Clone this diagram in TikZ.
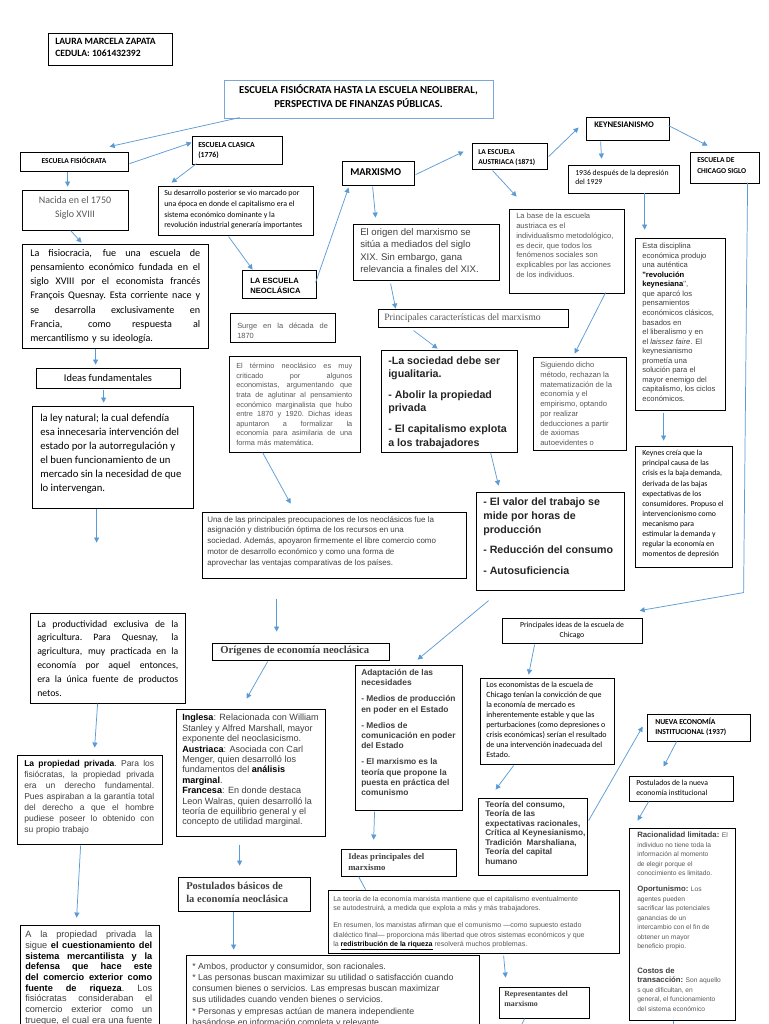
\documentclass[tikz,border=0pt]{standalone}
\usepackage{fontspec}
\setmainfont{Carlito}
\newfontfamily\ar{Liberation Sans}
\newfontfamily\tm{Liberation Serif}
\usetikzlibrary{arrows.meta,fit,calc}
\definecolor{arrc}{HTML}{5B9BD5}
\definecolor{titc}{HTML}{7BA7D7}
\definecolor{tg}{HTML}{404040}
\definecolor{tl}{HTML}{595959}
\newcommand{\fz}[2]{\fontsize{#1pt}{#2pt}\selectfont}
\newlength{\jw}
\newcommand{\J}[1]{\leavevmode\hbox to \jw{\spaceskip=\fontdimen2\font plus 1fil\relax\xspaceskip=\spaceskip #1}}
\begin{document}
\begin{tikzpicture}[x=0.75pt,y=-0.75pt,
 bx/.style={draw=black,line width=0.6pt,inner sep=0pt},
 tx/.style={anchor=north west,inner sep=0pt,align=left},
 arr/.style={draw=arrc,line width=0.55pt,-{Triangle[length=3.8pt,width=3.8pt]}},
 ln/.style={draw=arrc,line width=0.55pt}]
\useasboundingbox (0,0) rectangle (768,1024);
\fill[white] (0,0) rectangle (768,1024);
\clip (0,0) rectangle (768,1024);

% ---------- boxes ----------
\node[bx,fit={(48,33) (172,65)}] (name) {};
\node[bx,draw=titc,fit={(224,80) (493,118)}] (title) {};
\node[bx,fit={(20,152) (128,171)}] (fis) {};
\node[bx,fit={(192,136) (282,164)}] (clas) {};
\node[bx,fit={(22,190) (128,230)}] (nac) {};
\node[bx,fit={(22,244) (208,348)}] (fisio) {};
\node[bx,fit={(36,368) (180,388)}] (ideas) {};
\node[bx,fit={(32,406) (193,508)}] (ley) {};
\node[bx,fit={(30,613) (185,703)}] (prod) {};
\node[bx,fit={(17,755) (162,844)}] (prop) {};
\node[bx,fit={(20,925) (159,1034)}] (ala) {};
\node[bx,fit={(158,186) (313,235)}] (desa) {};
\node[bx,fit={(242,270) (316,298)}] (neo) {};
\node[bx,fit={(230,313) (335,342)}] (surge) {};
\node[bx,fit={(229,356) (360,452)}] (term) {};
\node[bx,fit={(202,512) (466,578)}] (una) {};
\node[bx,fit={(212,643) (389,660)}] (orig) {};
\node[bx,fit={(176,709) (325,836)}] (ingl) {};
\node[bx,fit={(178,877) (310,911)}] (post) {};
\node[bx,fit={(186,955) (479,1034)}] (amb) {};
\node[bx,fit={(342,161) (414,185)}] (marx) {};
\node[bx,fit={(353,224) (499,280)}] (origen) {};
\node[bx,fit={(378,309) (568,327)}] (carac) {};
\node[bx,fit={(381,350) (517,452)}] (soc) {};
\node[bx,fit={(476,492) (624,590)}] (valor) {};
\node[bx,fit={(472,143) (547,169)}] (aus) {};
\node[bx,fit={(509,209) (624,293)}] (base) {};
\node[bx,fit={(533,357) (626,450)}] (sig) {};
\node[bx,fit={(586,117) (669,140)}] (key) {};
\node[bx,fit={(568,165) (679,193)}] (anio) {};
\node[bx,fit={(690,152) (759,183)}] (chi) {};
\node[bx,fit={(635,238) (725,410)}] (esta) {};
\node[bx,fit={(635,446) (732,567)}] (keyc) {};
\node[bx,fit={(502,618) (642,643)}] (pich) {};
\node[bx,fit={(480,678) (614,764)}] (leco) {};
\node[bx,fit={(355,665) (462,810)}] (adap) {};
\node[bx,fit={(341,849) (456,876)}] (ideasm) {};
\node[bx,fit={(328,890) (619,953)}] (teo) {};
\node[bx,fit={(499,987) (589,1018)}] (rep) {};
\node[bx,fit={(478,798) (587,875)}] (tcon) {};
\node[bx,fit={(647,714) (750,741)}] (nue) {};
\node[bx,fit={(629,776) (733,801)}] (pnue) {};
\node[bx,fit={(629,828) (735,1020)}] (rac) {};

% ---------- texts ----------
\node[tx,font=\bfseries\fz{7.2}{9}] (namet) at (55,38) {LAURA MARCELA ZAPATA\\CEDULA: 1061432392};
\node[inner sep=0pt,align=center,font=\bfseries\fz{8}{10.5}] (titlet) at (358.5,96) {ESCUELA FISIÓCRATA HASTA LA ESCUELA NEOLIBERAL,\\PERSPECTIVA DE FINANZAS PÚBLICAS.};
\node[inner sep=0pt,font=\bfseries\fz{5.6}{7}] (fist) at (74,160) {ESCUELA FISIÓCRATA};
\node[tx,font=\bfseries\fz{5.8}{7.5}] (clast) at (198,142) {ESCUELA CLASICA\\(1776)};
\node[inner sep=0pt,align=center,text=tl,font=\fz{7.5}{10.5}] (nact) at (75,208) {Nacida en el 1750\\Siglo XVIII};
\node[tx,text width=127.5pt,font=\fz{7.6}{10.65}] (fisiot) at (30,249) {\setlength{\jw}{127.5pt}\J{La fisiocracia, fue una escuela de}\\\J{pensamiento económico fundada en el}\\\J{siglo XVIII por el economista francés}\\\J{François Quesnay. Esta corriente nace y}\\\J{se desarrolla exclusivamente en}\\\J{Francia, como respuesta al}\\mercantilismo y su ideología.};
\node[inner sep=0pt,font=\fz{7.8}{9}] (ideast) at (108,378) {Ideas fundamentales};
\node[tx,font=\fz{8}{10.4}] (leyt) at (40,414) {la ley natural; la cual defendía\\esa innecesaria intervención del\\estado por la autorregulación y\\el buen funcionamiento de un\\mercado sin la necesidad de que\\lo intervengan.};
\node[tx,text width=105.75pt,font=\fz{7.3}{10.35}] (prodt) at (37,620) {\setlength{\jw}{105.75pt}\J{La productividad exclusiva de la}\\\J{agricultura. Para Quesnay, la}\\\J{agricultura, muy practicada en la}\\\J{economía por aquel entonces,}\\\J{era la única fuente de productos}\\netos.};
\node[tx,text width=97.5pt,text=tg,font=\ar\fz{6.4}{8.25}] (propt) at (24,760) {\setlength{\jw}{97.5pt}\J{\textcolor{black}{\textbf{La propiedad privada}}. Para los}\\\J{fisiócratas, la propiedad privada}\\\J{era un derecho fundamental.}\\\J{Pues aspiraban a la garantía total}\\\J{del derecho a que el hombre}\\\J{pudiese poseer lo obtenido con}\\su propio trabajo};
\node[tx,text width=95.25pt,text=tg,font=\ar\fz{6.9}{8}] (alat) at (25,931) {\setlength{\jw}{95.25pt}\J{A la propiedad privada la}\\\J{sigue \textcolor{black}{\textbf{el cuestionamiento del}}}\\\J{\textcolor{black}{\textbf{sistema mercantilista y la}}}\\\J{\textcolor{black}{\textbf{defensa que hace este}}}\\\J{\textcolor{black}{\textbf{del comercio exterior como}}}\\\J{\textcolor{black}{\textbf{fuente de riqueza}}. Los}\\\J{fisiócratas consideraban el}\\\J{comercio exterior como un}\\\J{trueque, el cual era una fuente}};
\node[tx,font=\fz{5.9}{8}] (desat) at (164,190) {Su desarrollo posterior se vio marcado por\\una época en donde el capitalismo era el\\sistema económico dominante y la\\revolución industrial generaría importantes};
\node[tx,font=\ar\bfseries\fz{5.7}{7.5}] (neot) at (250,278) {LA ESCUELA\\NEOCLÁSICA};
\node[tx,text width=68pt,text=tl,font=\ar\fz{5.6}{7.5}] (surget) at (237,323) {\setlength{\jw}{68pt}\J{Surge en la década de}\\1870};
\node[tx,text width=87pt,text=tl,font=\ar\fz{5.5}{7.2}] (termt) at (236,363) {\setlength{\jw}{87pt}\J{El término neoclásico es muy}\\\J{criticado por algunos}\\\J{economistas, argumentando que}\\\J{trata de aglutinar al pensamiento}\\\J{económico marginalista que hubo}\\\J{entre 1870 y 1920. Dichas ideas}\\\J{apuntaron a formalizar la}\\\J{economía para asimilaria de una}\\forma más matemática.};
\node[tx,text=tg,font=\ar\fz{6}{8.1}] (unat) at (207,516) {Una de las principales preocupaciones de los neoclásicos fue la\\asignación y distribución óptima de los recursos en una\\sociedad. Además, apoyaron firmemente el libre comercio como\\motor de desarrollo económico y como una forma de\\aprovechar las ventajas comparativas de los países.};
\node[anchor=west,inner sep=0pt,text=tg,font=\tm\bfseries\fz{8}{9}] (origt) at (220,651) {Orígenes de economía neoclásica};
\node[tx,text=tg,font=\ar\fz{6.8}{7.8}] (inglt) at (182,714) {\textcolor{black}{\textbf{Inglesa}}: Relacionada con William\\Stanley y Alfred Marshall, mayor\\exponente del neoclasicismo.\\\textcolor{black}{\textbf{Austriaca}}: Asociada con Carl\\Menger, quien desarrolló los\\fundamentos del \textcolor{black}{\textbf{análisis}}\\\textcolor{black}{\textbf{marginal}}.\\\textcolor{black}{\textbf{Francesa}}: En donde destaca\\Leon Walras, quien desarrolló la\\teoría de equilibrio general y el\\concepto de utilidad marginal.};
\node[tx,text=tg,font=\tm\bfseries\fz{7.9}{9.75}] (postt) at (186,882) {Postulados básicos de\\la economía neoclásica};
\node[tx,text=tg,font=\ar\fz{6.6}{8.25}] (ambt) at (192,963) {* Ambos, productor y consumidor, son racionales.\\* Las personas buscan maximizar su utilidad o satisfacción cuando\\consumen bienes o servicios. Las empresas buscan maximizar\\sus utilidades cuando venden bienes o servicios.\\[0.6pt]* Personas y empresas actúan de manera independiente\\basándose en información completa y relevante.};
\node[tx,font=\bfseries\fz{7.8}{9}] (marxt) at (350,168) {MARXISMO};
\node[tx,text=tg,font=\ar\fz{7.2}{9.4}] (origent) at (360,228) {El origen del marxismo se\\sitúa a mediados del siglo\\XIX. Sin embargo, gana\\relevancia a finales del XIX.};
\node[anchor=west,inner sep=0pt,text=tl,font=\tm\fz{7.3}{9}] (caract) at (384,318) {Principales características del marxismo};
\node[tx,text=black!85,font=\ar\bfseries\fz{8}{10.1}] (soct) at (388,356) {-La sociedad debe ser\\igualitaria.\\[5.6pt]- Abolir la propiedad\\privada\\[5.6pt]- El capitalismo explota\\a los trabajadores};
\node[tx,text=black!85,font=\ar\bfseries\fz{8}{10.5}] (valort) at (483,497) {- El valor del trabajo se\\mide por horas de\\producción\\[5.2pt]- Reducción del consumo\\[5.2pt]- Autosuficiencia};
\node[tx,font=\bfseries\fz{5.6}{7.5}] (aust) at (478,149) {LA ESCUELA\\AUSTRIACA (1871)};
\node[tx,text=tl,font=\ar\fz{5.7}{7.35}] (baset) at (516,213) {La base de la escuela\\austriaca es el\\individualismo metodológico,\\es decir, que todos los\\fenómenos sociales son\\explicables por las acciones\\de los individuos.};
\node[tx,text=tl,font=\ar\fz{5.7}{7.3}] (sigt) at (540,362) {Siguiendo dicho\\método, rechazan la\\matematización de la\\economía y el\\empirismo, optando\\por realizar\\deducciones a partir\\de axiomas\\autoevidentes o};
\node[tx,font=\bfseries\fz{6.4}{8}] (keyt) at (594,122) {KEYNESIANISMO};
\node[tx,font=\fz{5.8}{7}] (aniot) at (575,170) {1936 después de la depresión\\del 1929};
\node[tx,font=\bfseries\fz{5.6}{8.25}] (chit) at (697,157) {ESCUELA DE\\CHICAGO SIGLO};
\node[tx,text=tg,font=\ar\fz{5.7}{7.15}] (estat) at (642,243) {Esta disciplina\\económica produjo\\una auténtica\\\textcolor{black}{\textbf{"revolución}}\\\textcolor{black}{\textbf{keynesiana}}",\\que aparcó los\\pensamientos\\económicos clásicos,\\basados en\\el liberalismo y en\\el \textit{laissez faire}. El\\keynesianismo\\prometía una\\solución para el\\mayor enemigo del\\capitalismo, los ciclos\\económicos.};
\node[tx,font=\fz{5.8}{7.6}] (keyct) at (642,450) {Keynes creía que la\\principal causa de las\\crisis es la baja demanda,\\derivada de las bajas\\expectativas de los\\consumidores. Propuso el\\intervencionismo como\\mecanismo para\\estimular la demanda y\\regular la economía en\\momentos de depresión};
\node[inner sep=0pt,align=center,font=\fz{5.8}{7.5}] (picht) at (572,630) {Principales ideas de la escuela de\\Chicago};
\node[tx,font=\fz{6}{7.5}] (lecot) at (486,682) {Los economistas de la escuela de\\Chicago tenían la convicción de que\\la economía de mercado es\\inherentemente estable y que las\\perturbaciones (como depresiones o\\crisis económicas) serían el resultado\\de una intervención inadecuada del\\Estado.};
\node[tx,text=tg,font=\ar\bfseries\fz{6.3}{7.7}] (adapt) at (361,669) {Adaptación de las\\necesidades\\[4.4pt]- Medios de producción\\en poder en el Estado\\[4.4pt]- Medios de\\comunicación en poder\\del Estado\\[4.4pt]- El marxismo es la\\teoría que propone la\\puesta en práctica del\\comunismo};
\node[tx,text=tg,font=\tm\bfseries\fz{6.5}{8.25}] (ideasmt) at (348,853) {Ideas principales del\\marxismo};
\node[tx,text=tl,font=\ar\fz{5.3}{7}] (teot) at (333,896) {La teoría de la economía marxista mantiene que el capitalismo eventualmente\\se autodestruirá, a medida que explota a más y más trabajadores.\\[5.7pt]En resumen, los marxistas afirman que el comunismo —como supuesto estado\\dialéctico final— proporciona más libertad que otros sistemas económicos y que\\la \textcolor{black}{\underline{\textbf{redistribución de la riqueza}}} resolverá muchos problemas.};
\node[tx,text=tg,font=\tm\bfseries\fz{5.9}{7.5}] (rept) at (504,991) {Representantes del\\marxismo};
\node[tx,text=tg,font=\ar\bfseries\fz{6.2}{7.1}] (tcont) at (485,801) {Teoría del consumo,\\Teoría de las\\expectativas racionales,\\Crítica al Keynesianismo,\\Tradición \ Marshaliana,\\Teoría del capital\\humano};
\node[tx,font=\bfseries\fz{5.7}{7.5}] (nuet) at (655,718) {NUEVA ECONOMÍA\\INSTITUCIONAL (1937)};
\node[tx,font=\fz{5.8}{7.5}] (pnuet) at (636,780) {Postulados de la nueva\\economía institucional};
\node[tx,text=tl,font=\ar\fz{5}{7.1}] (ract) at (637,832) {{\color{tg}\bfseries\fz{5.8}{7.1}Racionalidad limitada:} El\\individuo no tiene toda la\\información al momento\\de elegir porque el\\conocimiento es limitado.\\[4.9pt]{\color{tg}\bfseries\fz{5.8}{7.1}Oportunismo:} Los\\agentes pueden\\sacrificar las potenciales\\ganancias de un\\intercambio con el fin de\\obtener un mayor\\beneficio propio.\\[11.6pt]{\color{tg}\bfseries\fz{5.8}{7.1}Costos de}\\{\color{tg}\bfseries\fz{5.8}{7.1}transacción:} Son aquello\\s que dificultan, en\\general, el funcionamiento\\del sistema económico};

% ---------- connectors ----------
\draw[arr] ($(title.north west)+(16,38)$) -- ($(fis.north west)+(90,-5)$);
\draw[arr] ($(fis.north west)+(110,12)$) -- ($(clas.north west)+(0,7)$);
\draw[arr] ($(clas.north west)+(5,28)$) -- ($(desa.north west)+(14,-3)$);
\draw[arr] ($(fis.north west)+(48,20)$) -- ($(nac.north west)+(46,-3)$);
\draw[arr] ($(nac.north west)+(49,41)$) -- ($(fisio.north west)+(60,-1)$);
\draw[arr] ($(fisio.north west)+(74,105)$) -- ($(ideas.north west)+(60,-3)$);
\draw[arr] ($(ideas.north west)+(68,22)$) -- ($(ley.north west)+(72,-3)$);
\draw[arr] ($(ley.north west)+(65,103)$) -- ($(ley.north west)+(65,137)$);
\draw[arr] ($(prod.north west)+(68,91)$) -- ($(prop.north west)+(78,-7)$);
\draw[arr] ($(prop.north west)+(64,91)$) -- ($(ala.north west)+(57,-7)$);
\draw[arr] ($(desa.north west)+(71,51)$) -- ($(neo.north west)+(11,0)$);
\draw[arr] ($(neo.north west)+(74,13)$) -- ($(marx.north west)+(7,27)$);
\draw[arr] ($(marx.north west)+(31,26)$) -- ($(origen.north west)+(23,-6)$);
\draw[arr] ($(marx.north west)+(74,14)$) -- ($(aus.north west)+(-8,9)$);
\draw[arr] ($(origen.north west)+(38,60)$) -- ($(carac.north west)+(18,0)$);
\draw[arr] ($(carac.north west)+(36,22)$) -- ($(soc.north west)+(57,-1)$);
\draw[arr] ($(soc.north west)+(110,103)$) -- ($(valor.north west)+(23,-6)$);
\draw[arr] ($(term.north west)+(34,97)$) -- ($(una.north west)+(89,-8)$);
\draw[arr] ($(una.north west)+(75,87)$) -- ($(orig.north west)+(65,-11)$);
\draw[arr] ($(orig.north west)+(56,19)$) -- ($(ingl.north west)+(71,-10)$);
\draw[arr] ($(ingl.north west)+(64,136)$) -- ($(post.north west)+(62,-11)$);
\draw[arr] ($(post.north west)+(56,35)$) -- ($(amb.north west)+(48,-5)$);
\draw[arr] ($(aus.north west)+(21,28)$) -- ($(base.north west)+(8,-12)$);
\draw[arr] ($(base.north west)+(97,84)$) -- ($(sig.north west)+(42,-3)$);
\draw[arr] ($(aus.north west)+(77,14)$) -- ($(key.north west)+(-7,11)$);
\draw[arr] ($(key.north west)+(15,25)$) -- ($(anio.north west)+(34,-6)$);
\draw[arr] ($(key.north west)+(83,9)$) -- ($(chi.north west)+(18,-6)$);
\draw[arr] ($(anio.north west)+(77,28)$) -- ($(esta.north west)+(10,-8)$);
\draw[arr] ($(esta.north west)+(29,175)$) -- ($(keyc.north west)+(29,-5)$);
\coordinate (bend) at ($(chi.north west)+(54,441)$);
\draw[arr] ($(chi.north west)+(58,31)$) -- (bend) -- ($(pich.north west)+(138,-7)$);
\draw[arr] ($(pich.north west)+(33,27)$) -- ($(leco.north west)+(49,-3)$);
\draw[arr] ($(valor.north west)+(13,109)$) -- ($(adap.north west)+(63,-5)$);
\draw[arr] ($(leco.north west)+(34,88)$) -- ($(tcon.north west)+(18,-8)$);
\draw[arr] ($(tcon.north west)+(111,23)$) -- ($(nue.north west)+(-4,13)$);
\draw[arr] ($(nue.north west)+(30,28)$) -- ($(pnue.north west)+(35,-9)$);
\draw[arr] ($(pnue.north west)+(20,26)$) -- ($(rac.north west)+(9,-7)$);
\draw[arr] ($(adap.north west)+(20,147)$) -- ($(ideasm.north west)+(33,-9)$);
\draw[ln] ($(ideasm.north west)+(18,28)$) -- ($(teo.north west)+(38,0)$);
\draw[arr] ($(teo.north west)+(176,66)$) -- ($(rep.north west)+(7,-9)$);
\draw[ln] ($(rep.north west)+(26,32)$) -- ($(rep.north west)+(22,40)$);
\draw[ln] ($(rac.north west)+(45,193)$) -- ($(rac.north west)+(45,199)$);
\end{tikzpicture}
\end{document}
